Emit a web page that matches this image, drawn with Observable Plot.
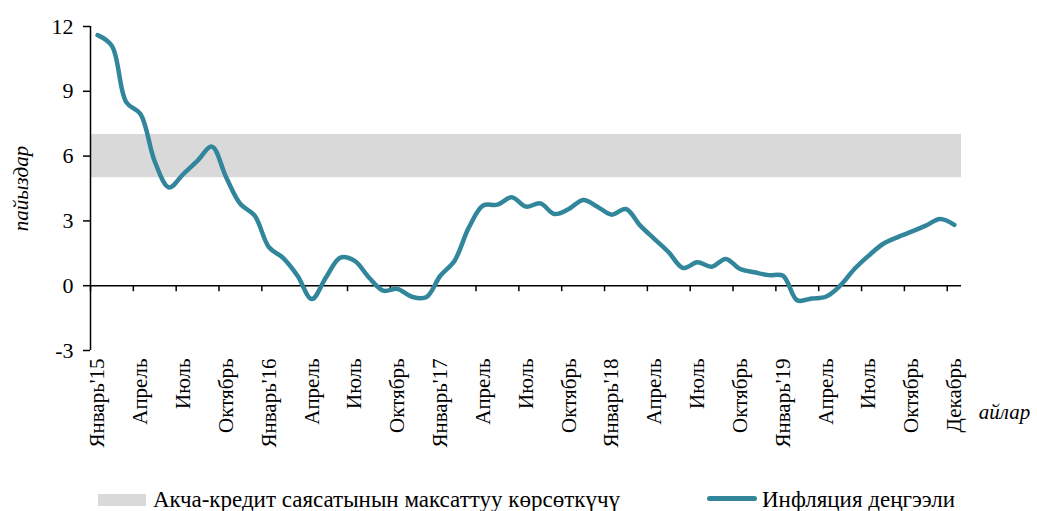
<!DOCTYPE html>
<html>
<head>
<meta charset="utf-8">
<script src="https://cdn.jsdelivr.net/npm/d3@7"></script>
<script src="https://cdn.jsdelivr.net/npm/@observablehq/plot@0.6"></script>
<style>
  html, body { margin: 0; padding: 0; background: #fff; overflow: hidden; }
  #chart { width: 1037px; }
  #legend { position: relative; width: 1037px; height: 26px; font-family: "Liberation Serif", "Times New Roman", serif; font-size: 23px; color: #000; }
  #legend .sw-band { position: absolute; left: 98px; top: 9px; width: 48px; height: 12px; background: #d9d9d9; }
  #legend .sw-line { position: absolute; left: 707px; top: 11px; width: 50px; height: 5px; border-radius: 3px; background: #31869b; }
  #legend .lab { position: absolute; top: 4px; line-height: 22px; white-space: nowrap; }
</style>
</head>
<body>
<div id="chart"></div>
<div id="legend"></div>
<script>
// Monthly inflation, Jan 2015 ... (61 monthly points), percent
const inflation = [
  11.6, 11.1, 8.5, 7.95, 5.75, 4.55, 5.17, 5.79, 6.44, 5.02,
  3.78, 3.24, 1.78, 1.28, 0.46, -0.62, 0.39, 1.3, 1.15, 0.38,
  -0.23, -0.15, -0.51, -0.54, 0.46, 1.16, 2.7, 3.71, 3.75, 4.09,
  3.66, 3.81, 3.32, 3.55, 3.97, 3.66, 3.29, 3.55, 2.78, 2.16,
  1.54, 0.82, 1.08, 0.88, 1.24, 0.77, 0.62, 0.49, 0.46, -0.68,
  -0.59, -0.51, 0.0, 0.77, 1.39, 1.93, 2.24, 2.5, 2.78, 3.09,
  2.82
];
// Target band of monetary policy
const targetLow = 5;
const targetHigh = 7;
// Category tick labels (every 3rd month, last one is the final month)
const labelIndex = [0, 3, 6, 9, 12, 15, 18, 21, 24, 27, 30, 33, 36, 39, 42, 45, 48, 51, 54, 57, 60];
const labelText = ["Январь'15", "Апрель", "Июль", "Октябрь", "Январь'16", "Апрель", "Июль", "Октябрь",
  "Январь'17", "Апрель", "Июль", "Октябрь", "Январь'18", "Апрель", "Июль", "Октябрь",
  "Январь'19", "Апрель", "Июль", "Октябрь", "Декабрь"];
const yTicks = [-3, 0, 3, 6, 9, 12];
const xTickBoundaries = [0, 3, 6, 9, 12, 15, 18, 21, 24, 27, 30, 33, 36, 39, 42, 45, 48, 51, 54, 57, 60];
const yLabel = "пайыздар";
const xLabel = "айлар";
const legendBand = "Акча-кредит саясатынын максаттуу көрсөткүчү";
const legendLine = "Инфляция деңгээли";

const n = inflation.length;
const series = inflation.map((v, i) => ({pos: i + 0.5, value: v}));
const labelMap = new Map(labelIndex.map((k, j) => [k + 0.5, labelText[j]]));

const font = '"Liberation Serif", "Times New Roman", serif';

const chart = Plot.plot({
  width: 1037,
  height: 485,
  marginLeft: 90,
  marginRight: 76,
  marginTop: 26,
  marginBottom: 135,
  style: {fontFamily: font, fontSize: "21px", color: "#000", background: "#fff"},
  x: {domain: [0, n], axis: null},
  y: {domain: [-3, 12], axis: null},
  marks: [
    Plot.rect([{y1: targetLow, y2: targetHigh}], {x1: 0, x2: n, y1: "y1", y2: "y2", fill: "#d9d9d9"}),
    Plot.ruleY([0], {x1: 0, x2: n, stroke: "#000", strokeWidth: 1.5}),
    Plot.ruleX(xTickBoundaries, {x: d => d, y1: 0, y2: 0, insetBottom: -6, stroke: "#000", strokeWidth: 1.5}),
    Plot.ruleX([0], {y1: -3, y2: 12, stroke: "#000", strokeWidth: 1.5}),
    Plot.axisY({ticks: yTicks, tickSize: 7, tickPadding: 10, tickFormat: d => String(d), label: null, fontSize: 22, stroke: "#000", strokeWidth: 1.5}),
    Plot.axisX({anchor: "bottom", ticks: labelIndex.map(k => k + 0.5), tickFormat: d => labelMap.get(d), tickSize: 0, tickPadding: 8, tickRotate: -90, label: null, fontSize: 21}),
    Plot.line(series, {x: "pos", y: "value", stroke: "#31869b", strokeWidth: 4.5, curve: "catmull-rom", strokeLinecap: "round", strokeLinejoin: "round"}),
    Plot.text([yLabel], {frameAnchor: "left", dx: -69, rotate: -90, textAnchor: "middle", lineAnchor: "middle", fontStyle: "italic", fontSize: 21}),
    Plot.text([xLabel], {frameAnchor: "bottom-right", dx: 43, dy: 62, textAnchor: "middle", lineAnchor: "middle", fontStyle: "italic", fontSize: 21})
  ]
});
document.getElementById("chart").appendChild(chart);

const legend = document.getElementById("legend");
legend.innerHTML =
  '<div class="sw-band"></div><div class="lab" style="left:153px">' + legendBand + '</div>' +
  '<div class="sw-line"></div><div class="lab" style="left:762px">' + legendLine + '</div>';
</script>
</body>
</html>
